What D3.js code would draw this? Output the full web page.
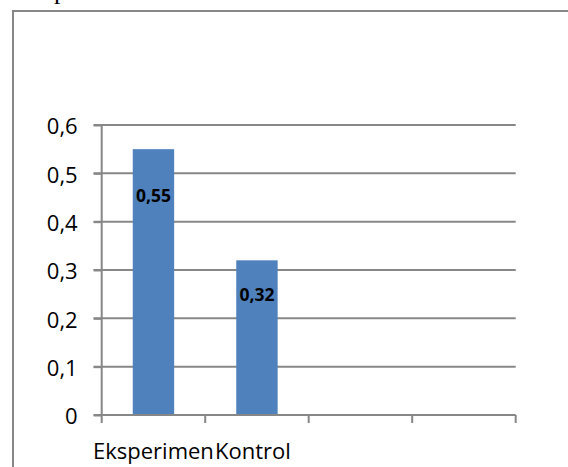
<!DOCTYPE html>
<html><head><meta charset="utf-8">
<script src="https://cdn.jsdelivr.net/npm/d3@7"></script>
<style>html,body{margin:0;padding:0;background:#fff;overflow:hidden}</style>
</head><body>
<svg id="c" width="568" height="467"></svg>
<script>
const categories = ["Eksperimen", "Kontrol", "", ""];
const values = [0.55, 0.32, null, null];
const valueLabels = ["0,55", "0,32", "", ""];
const yTicks = [0, 0.1, 0.2, 0.3, 0.4, 0.5, 0.6];
const yTickLabels = ["0", "0,1", "0,2", "0,3", "0,4", "0,5", "0,6"];

const svg = d3.select("#c");
const grey = "#878787";
const font = "'Open Sans', sans-serif";

// cropped glyph from text above the chart
svg.append("text").attr("x", 54).attr("y", -1).attr("font-family", "'Liberation Serif', serif")
  .attr("font-size", 26).attr("fill", "#000").text("p");

// chart frame (cropped)
svg.append("path").attr("d", "M13,467 L13,11 L570,11").attr("fill", "none")
  .attr("stroke", grey).attr("stroke-width", 2);

const x = d3.scaleBand().domain(d3.range(categories.length)).range([101.7, 515.7]).paddingInner(0.6).paddingOuter(0.3);
const xb = d3.scaleBand().domain(d3.range(categories.length)).range([101.7, 515.7]);
const y = d3.scaleLinear().domain([0, 0.6]).range([415, 125]);

// gridlines
svg.append("g").selectAll("line").data(yTicks.slice(1)).join("line")
  .attr("x1", 93.5).attr("x2", 515.7).attr("y1", d => y(d)).attr("y2", d => y(d))
  .attr("stroke", grey).attr("stroke-width", 2);

// y axis
const yAxis = svg.append("g").attr("transform", "translate(101.7,0)")
  .call(d3.axisLeft(y).tickValues(yTicks).tickSize(8).tickPadding(16).tickFormat((d, i) => yTickLabels[i]));
yAxis.select(".domain").attr("stroke", grey).attr("stroke-width", 2).attr("d", `M0,${y(0.6)}V${y(0)}`);
yAxis.selectAll(".tick line").attr("stroke", grey).attr("stroke-width", 2);
yAxis.selectAll(".tick text").attr("font-family", font).attr("font-size", 22).attr("fill", "#000").attr("dy", "0.4em");

// bars
svg.append("g").selectAll("rect").data(values.map((v, i) => ({v, i})).filter(d => d.v != null)).join("rect")
  .attr("x", d => x(d.i)).attr("width", x.bandwidth())
  .attr("y", d => y(d.v)).attr("height", d => y(0) - y(d.v))
  .attr("fill", "#4F81BD");

// x axis
const xAxis = svg.append("g").attr("transform", `translate(0,${y(0)})`);
xAxis.append("line").attr("x1", 93.5).attr("x2", 515.7).attr("y1", 0).attr("y2", 0)
  .attr("stroke", grey).attr("stroke-width", 2);
const bounds = xb.domain().map(i => xb(i)).concat([xb.range()[1]]);
xAxis.selectAll("line.t").data(bounds).join("line").attr("class", "t")
  .attr("x1", d => d).attr("x2", d => d).attr("y1", 0).attr("y2", 8)
  .attr("stroke", grey).attr("stroke-width", 2);
xAxis.selectAll("text").data(categories).join("text")
  .attr("x", (d, i) => xb(i) + xb.bandwidth() / 2 - (i === 1 ? 4 : 0)).attr("y", 44)
  .attr("text-anchor", "middle").attr("font-family", font).attr("font-size", 22).attr("fill", "#000")
  .text(d => d);

// value labels
const labelOffsets = [52.7, 40.6];
svg.append("g").selectAll("text").data(values.map((v, i) => ({v, i})).filter(d => d.v != null)).join("text")
  .attr("x", d => x(d.i) + x.bandwidth() / 2).attr("y", d => y(d.v) + labelOffsets[d.i])
  .attr("text-anchor", "middle").attr("font-family", font).attr("font-weight", "bold")
  .attr("font-size", 17.5).attr("fill", "#000").text(d => valueLabels[d.i]);
</script>
</body></html>
